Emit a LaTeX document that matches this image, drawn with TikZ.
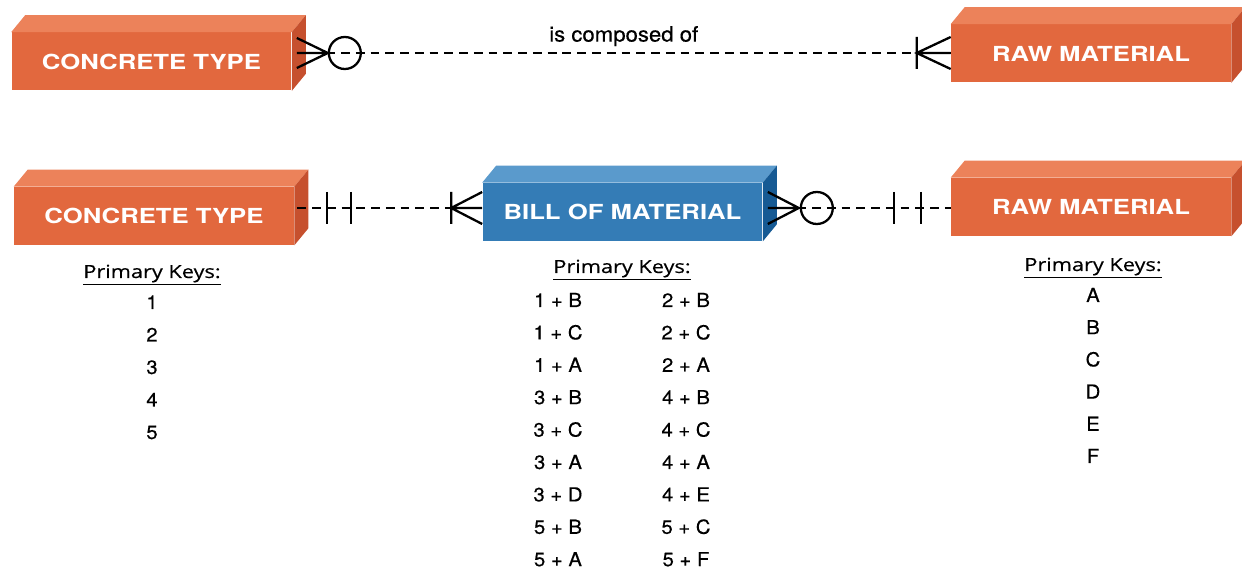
\documentclass[tikz,border=0pt]{standalone}
\usepackage{fontspec}
\setmainfont{TeX Gyre Heros}[FakeStretch=1.05, FakeBold=0.4]
\newfontfamily\entFont{TeX Gyre Heros}[FakeStretch=1.24]
\newfontfamily\headFont{Open Sans}[FakeStretch=1.2, FakeBold=0.4]
\usetikzlibrary{calc}
\definecolor{orFront}{RGB}{226,104,62}
\definecolor{orTop}{RGB}{236,130,90}
\definecolor{orSide}{RGB}{198,80,46}
\definecolor{blFront}{RGB}{52,124,182}
\definecolor{blTop}{RGB}{90,154,204}
\definecolor{blSide}{RGB}{22,90,148}
\tikzset{
    entBox/.style={rectangle, fill=orFront, text=white, inner sep=0pt, minimum width=5.6cm, minimum height=1.16cm, font=\entFont\bfseries\fontsize{11.8}{14}\selectfont},
    relLine/.style={line width=1.1pt, dash pattern=on 5pt off 3.4pt},
    footLine/.style={line width=1.3pt},
    keyHead/.style={anchor=base, font=\headFont\fontsize{10.3}{12}\selectfont},
    keyText/.style={anchor=base, font=\fontsize{11}{13}\selectfont}
}

\begin{document}
\begin{tikzpicture}[x=0.02cm, y=-0.02cm]
    \useasboundingbox (0,0) rectangle (1242,570);
    \coordinate (rowA) at (0,53);  \coordinate (rowB) at (0,208);
    \node[entBox] (ConcreteA) at (151.5,61.5) {CONCRETE TYPE};
    \node[entBox] (RawA) at (1091,53.5) {RAW MATERIAL};
    \node[entBox] (ConcreteB) at (154,216) {CONCRETE TYPE};
    \node[entBox, fill=blFront] (Bill) at (622.5,212) {BILL OF MATERIAL};
    \node[entBox] (RawB) at (1091,207) {RAW MATERIAL};
    \foreach \n/\cTop/\cSide in {ConcreteA/orTop/orSide, RawA/orTop/orSide, ConcreteB/orTop/orSide, Bill/blTop/blSide, RawB/orTop/orSide}{
        \fill[\cTop] (\n.north west) -- ++(14,-17) -- ($(\n.north east)+(14,-17)$) -- (\n.north east) -- cycle;
        \fill[\cSide] (\n.north east) -- ++(14,-17) -- ($(\n.south east)+(14,-17)$) -- (\n.south east) -- cycle;
    }

    \coordinate (a1) at ($(ConcreteA.east |- rowA)+(5,0)$);
    \coordinate (a2) at (RawA.west |- rowA);
    \draw[relLine] (a1) -- (a2) node[midway, above=0pt, font=\fontsize{12}{14}\selectfont] (relName) {is composed of};
    \draw[footLine] ($(a1)+(0,-15)$) -- ($(a1)+(31,0)$) -- ($(a1)+(0,15)$) (a1) -- ++(31,0);
    \draw[footLine] ($(a1)+(48,0)$) circle[radius=16];
    \draw[footLine] ($(a2)+(-34,-16)$) -- ++(0,32) ($(a2)+(0,-16)$) -- ($(a2)+(-34,0)$) -- ($(a2)+(0,16)$) ($(a2)+(-34,0)$) -- (a2);

    \coordinate (b1) at ($(ConcreteB.east |- rowB)+(3,0)$);
    \coordinate (b2) at (Bill.west |- rowB);
    \coordinate (b3) at ($(Bill.east |- rowB)+(5,0)$);
    \coordinate (b4) at (RawB.west |- rowB);
    \draw[relLine] (b1) -- (b2);
    \draw[relLine] (b3) -- (b4);
    \foreach \dx in {30,54} \draw[footLine] ($(b1)+(\dx,-16)$) -- ++(0,32);
    \draw[footLine] ($(b2)+(-31,-16)$) -- ++(0,32) ($(b2)+(0,-16)$) -- ($(b2)+(-31,0)$) -- ($(b2)+(0,16)$) ($(b2)+(-31,0)$) -- (b2);
    \draw[footLine] ($(b3)+(0,-16)$) -- ($(b3)+(31,0)$) -- ($(b3)+(0,16)$) (b3) -- ++(31,0);
    \draw[footLine] ($(b3)+(49,0)$) circle[radius=16];
    \foreach \dx in {-57,-30} \draw[footLine] ($(b4)+(\dx,-16)$) -- ++(0,32);

    \node[keyHead] (ctHead) at (152,278) {\underline{Primary Keys:}};
    \foreach \k [count=\i] in {1,...,5} \node[keyText] (ctKey\i) at (152,{276.5+32.5*\i}) {\k};
    \node[keyHead] (billHead) at (622,273) {\underline{Primary Keys:}};
    \foreach \a/\b [count=\i] in {1 + B/2 + B, 1 + C/2 + C, 1 + A/2 + A, 3 + B/4 + B, 3 + C/4 + C, 3 + A/4 + A, 3 + D/4 + E, 5 + B/5 + C, 5 + A/5 + F}{
        \node[keyText] (billKeyA\i) at (558,{274.6+32.4*\i}) {\a};
        \node[keyText] (billKeyB\i) at (686,{274.6+32.4*\i}) {\b};
    }
    \node[keyHead] (rawHead) at (1093,271) {\underline{Primary Keys:}};
    \foreach \k [count=\i] in {A,...,F} \node[keyText] (rawKey\i) at (1093,{269.8+32.2*\i}) {\k};
\end{tikzpicture}
\end{document}
